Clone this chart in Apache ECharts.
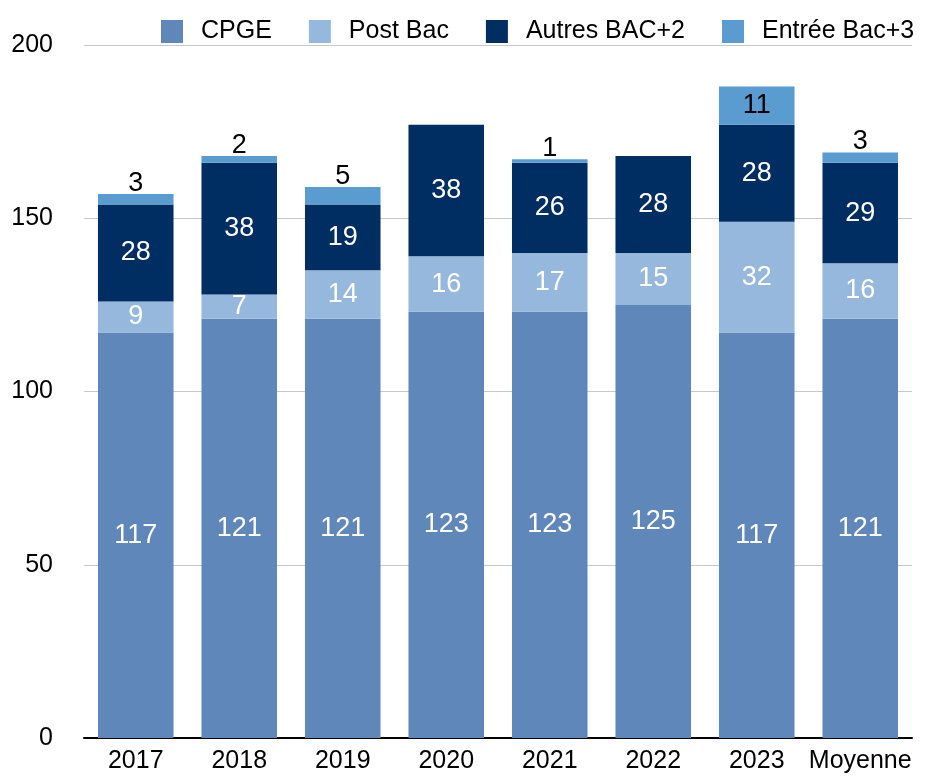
<!DOCTYPE html>
<html>
<head>
<meta charset="utf-8">
<script src="https://cdn.jsdelivr.net/npm/echarts@6/dist/echarts.min.js"></script>
<style>
  html, body { margin: 0; padding: 0; background: #fff; }
  #chart { width: 932px; height: 777px; }
</style>
</head>
<body>
<div id="chart"></div>
<script>
var categories = ['2017', '2018', '2019', '2020', '2021', '2022', '2023', 'Moyenne'];
var cpge = [117, 121, 121, 123, 123, 125, 117, 121];
var postBac = [9, 7, 14, 16, 17, 15, 32, 16];
var autres = [28, 38, 19, 38, 26, 28, 28, 29];
var entree = [3, 2, 5, 0, 1, 0, 11, 3];
var yTicks = [0, 50, 100, 150, 200];

var font = 'Liberation Sans, Arial, sans-serif';

function insideLabel() {
  return {
    show: true,
    position: 'inside',
    color: '#fff',
    fontSize: 27,
    fontFamily: font
  };
}

// the last segment: label above the bar, or inside when there is room
var entreeData = entree.map(function (v) {
  var item = { value: v };
  if (v >= 8) {
    item.label = { position: 'inside' };
  }
  return item;
});

var chart = echarts.init(document.getElementById('chart'));
chart.setOption({
  animation: false,
  color: ['#5f87ba', '#95b8dc', '#002d62', '#5a9bd0'],
  legend: {
    top: 14,
    left: 156,
    itemWidth: 22,
    itemHeight: 23,
    itemGap: 37,
    icon: 'rect',
    textStyle: { fontSize: 25, fontFamily: font, color: '#000', padding: [0, 0, 0, 13] },
    data: ['CPGE', 'Post Bac', 'Autres BAC+2', 'Entrée Bac+3']
  },
  grid: { left: 84, right: 20, top: 45, bottom: 39 },
  xAxis: {
    type: 'category',
    data: categories,
    axisLine: { lineStyle: { color: '#000', width: 2 } },
    axisTick: { show: false },
    axisLabel: { interval: 0, fontSize: 25, fontFamily: font, color: '#000', margin: 11 }
  },
  yAxis: {
    type: 'value',
    min: yTicks[0],
    max: yTicks[yTicks.length - 1],
    interval: 50,
    axisLine: { show: false },
    axisTick: { show: false },
    splitLine: { lineStyle: { color: '#c8c8c8', width: 1 } },
    axisLabel: { fontSize: 25, fontFamily: font, color: '#000', margin: 31 }
  },
  series: [
    {
      name: 'CPGE', type: 'bar', stack: 'total', barWidth: '73%',
      data: cpge, label: insideLabel()
    },
    {
      name: 'Post Bac', type: 'bar', stack: 'total',
      data: postBac, label: insideLabel()
    },
    {
      name: 'Autres BAC+2', type: 'bar', stack: 'total',
      data: autres, label: insideLabel()
    },
    {
      name: 'Entrée Bac+3', type: 'bar', stack: 'total',
      data: entreeData,
      label: {
        show: true,
        position: 'top',
        distance: -3,
        color: '#000',
        fontSize: 27,
        fontFamily: font,
        formatter: function (p) { return p.value ? p.value : ''; }
      }
    }
  ]
});
</script>
</body>
</html>
